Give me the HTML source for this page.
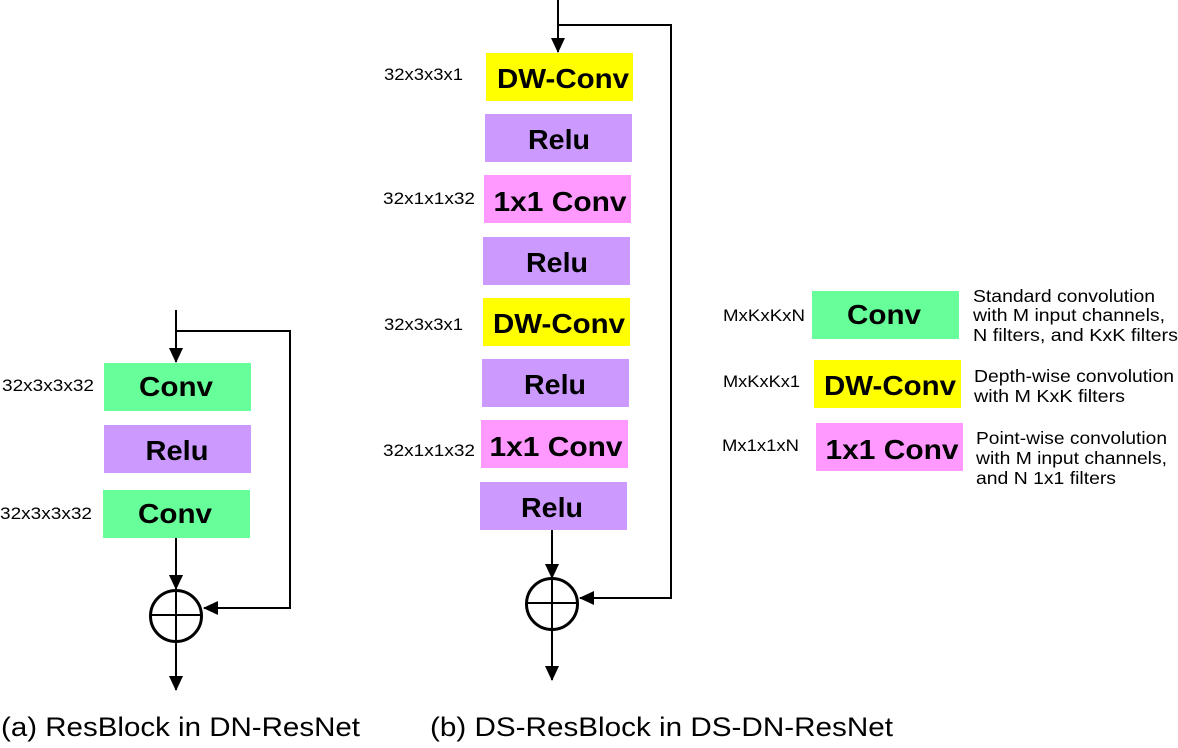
<!DOCTYPE html>
<html><head><style>
body{margin:0;background:#fff;}
svg text{font-family:"Liberation Sans",Arial,sans-serif;}
.b{font-weight:bold;font-size:28px;text-anchor:middle;}
.s{font-size:17px;}
.d{font-size:17.5px;}
</style></head><body>
<svg width="1178" height="743" viewBox="0 0 1178 743">
<defs><marker id="a" markerWidth="16" markerHeight="16" refX="14" refY="8" orient="auto" markerUnits="userSpaceOnUse"><path d="M0,1 L15,8 L0,15 z" fill="#000"/></marker></defs>
<g stroke="#000" stroke-width="2" fill="none">
<line x1="176" y1="310" x2="176" y2="362" marker-end="url(#a)"/>
<polyline points="176,331 290,331 290,608 204,608" marker-end="url(#a)"/>
<line x1="176" y1="538" x2="176" y2="589" marker-end="url(#a)"/>
<circle cx="176" cy="616" r="25.5" stroke-width="3"/>
<line x1="150" y1="615" x2="202" y2="615"/>
<line x1="176" y1="590" x2="176" y2="690" marker-end="url(#a)"/>
<line x1="558" y1="0" x2="558" y2="52" marker-end="url(#a)"/>
<polyline points="558,25 671,25 671,598 580,598" marker-end="url(#a)"/>
<line x1="552" y1="530" x2="552" y2="578" marker-end="url(#a)"/>
<circle cx="552" cy="604" r="25.5" stroke-width="3"/>
<line x1="526" y1="603" x2="578" y2="603"/>
<line x1="552" y1="578" x2="552" y2="680" marker-end="url(#a)"/>
</g>
<rect x="104" y="363" width="147" height="48" fill="#66ff99"/>
<text class="b" x="176" y="396" textLength="74" lengthAdjust="spacingAndGlyphs">Conv</text>
<rect x="104" y="425" width="147" height="48" fill="#cc99ff"/>
<text class="b" x="177" y="460" textLength="63" lengthAdjust="spacingAndGlyphs">Relu</text>
<rect x="103" y="490" width="147" height="48" fill="#66ff99"/>
<text class="b" x="175" y="523" textLength="74" lengthAdjust="spacingAndGlyphs">Conv</text>
<text class="s" x="2" y="391" textLength="92" lengthAdjust="spacingAndGlyphs">32x3x3x32</text>
<text class="s" x="0" y="519" textLength="92" lengthAdjust="spacingAndGlyphs">32x3x3x32</text>
<rect x="486" y="53" width="147" height="48" fill="#ffff00"/>
<text class="b" x="563" y="88" textLength="132" lengthAdjust="spacingAndGlyphs">DW-Conv</text>
<rect x="485" y="114" width="147" height="48" fill="#cc99ff"/>
<text class="b" x="559" y="149" textLength="62" lengthAdjust="spacingAndGlyphs">Relu</text>
<rect x="484" y="175" width="147" height="48" fill="#ff99ff"/>
<text class="b" x="560" y="211" textLength="133" lengthAdjust="spacingAndGlyphs">1x1 Conv</text>
<rect x="483" y="237" width="147" height="48" fill="#cc99ff"/>
<text class="b" x="557" y="272" textLength="62" lengthAdjust="spacingAndGlyphs">Relu</text>
<rect x="483" y="298" width="147" height="48" fill="#ffff00"/>
<text class="b" x="559" y="333" textLength="132" lengthAdjust="spacingAndGlyphs">DW-Conv</text>
<rect x="482" y="359" width="147" height="48" fill="#cc99ff"/>
<text class="b" x="555" y="394" textLength="62" lengthAdjust="spacingAndGlyphs">Relu</text>
<rect x="481" y="420" width="147" height="48" fill="#ff99ff"/>
<text class="b" x="556" y="456" textLength="133" lengthAdjust="spacingAndGlyphs">1x1 Conv</text>
<rect x="480" y="482" width="147" height="48" fill="#cc99ff"/>
<text class="b" x="552" y="517" textLength="62" lengthAdjust="spacingAndGlyphs">Relu</text>
<text class="s" x="384" y="80" textLength="79" lengthAdjust="spacingAndGlyphs">32x3x3x1</text>
<text class="s" x="383" y="204" textLength="92" lengthAdjust="spacingAndGlyphs">32x1x1x32</text>
<text class="s" x="384" y="330" textLength="79" lengthAdjust="spacingAndGlyphs">32x3x3x1</text>
<text class="s" x="383" y="456" textLength="92" lengthAdjust="spacingAndGlyphs">32x1x1x32</text>
<rect x="812" y="291" width="147" height="48" fill="#66ff99"/>
<text class="b" x="884" y="324" textLength="74" lengthAdjust="spacingAndGlyphs">Conv</text>
<rect x="814" y="360" width="147" height="48" fill="#ffff00"/>
<text class="b" x="890" y="395" textLength="132" lengthAdjust="spacingAndGlyphs">DW-Conv</text>
<rect x="816" y="423" width="147" height="48" fill="#ff99ff"/>
<text class="b" x="892" y="459" textLength="133" lengthAdjust="spacingAndGlyphs">1x1 Conv</text>
<text class="s" x="723" y="321" textLength="82" lengthAdjust="spacingAndGlyphs">MxKxKxN</text>
<text class="s" x="723" y="387" textLength="77" lengthAdjust="spacingAndGlyphs">MxKxKx1</text>
<text class="s" x="722" y="451" textLength="77" lengthAdjust="spacingAndGlyphs">Mx1x1xN</text>
<text class="d" x="973" y="302" textLength="182" lengthAdjust="spacingAndGlyphs">Standard convolution</text>
<text class="d" x="973" y="321" textLength="192" lengthAdjust="spacingAndGlyphs">with M input channels,</text>
<text class="d" x="973" y="341" textLength="205" lengthAdjust="spacingAndGlyphs">N filters, and KxK filters</text>
<text class="d" x="974" y="382" textLength="200" lengthAdjust="spacingAndGlyphs">Depth-wise convolution</text>
<text class="d" x="974" y="402" textLength="151" lengthAdjust="spacingAndGlyphs">with M KxK filters</text>
<text class="d" x="976" y="444" textLength="191" lengthAdjust="spacingAndGlyphs">Point-wise convolution</text>
<text class="d" x="976" y="464" textLength="191" lengthAdjust="spacingAndGlyphs">with M input channels,</text>
<text class="d" x="976" y="484" textLength="140" lengthAdjust="spacingAndGlyphs">and N 1x1 filters</text>
<text x="1" y="736" font-size="27" textLength="359" lengthAdjust="spacingAndGlyphs">(a) ResBlock in DN-ResNet</text>
<text x="430" y="736" font-size="27" textLength="463" lengthAdjust="spacingAndGlyphs">(b) DS-ResBlock in DS-DN-ResNet</text>
</svg>
</body></html>
